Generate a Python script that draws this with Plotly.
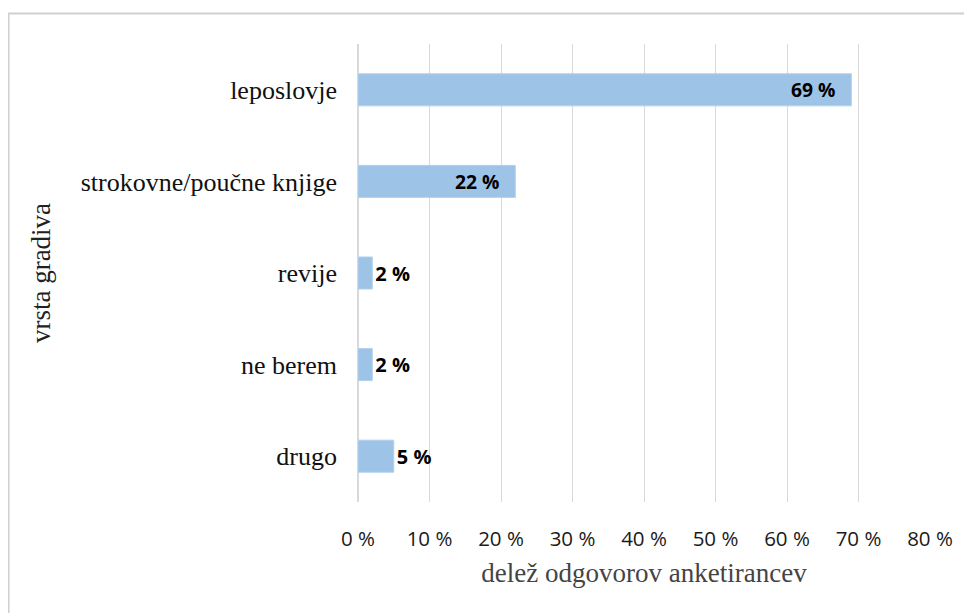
import plotly.graph_objects as go

categories = ["leposlovje", "strokovne/poučne knjige", "revije", "ne berem", "drugo"]
values = [69, 22, 2, 2, 5]
label_text = ["69 %", "22 %", "2 %", "2 %", "5 %"]
label_pos = ["inside", "inside", "outside", "outside", "outside"]
tick_vals = [0, 10, 20, 30, 40, 50, 60, 70, 80]
tick_text = ["0 %", "10 %", "20 %", "30 %", "40 %", "50 %", "60 %", "70 %", "80 %"]

# page body has an 8px margin, so the figure is offset by 8px
W, H = 964, 605
ml, mr, mt, mb = 350, 42, 36, 111
PW, PH = W - ml - mr, H - mt - mb

templates = ["%{text}\u2002\u2009" if p == "inside" else "%{text}" for p in label_pos]

fig = go.Figure(go.Bar(
    y=categories, x=values, orientation="h",
    text=label_text, textposition=label_pos, texttemplate=templates,
    insidetextanchor="end",
    textfont=dict(family="Open Sans", size=20, color="#000000", weight="bold"),
    marker=dict(color="#9DC3E6", line=dict(color="#B4D1EC", width=1)),
    width=0.35, cliponaxis=False,
))

fig.update_layout(
    width=W, height=H,
    margin=dict(l=ml, r=mr, t=mt, b=mb),
    paper_bgcolor="white", plot_bgcolor="white",
    showlegend=False,
    xaxis=dict(
        range=[0, 80], tickvals=tick_vals, ticktext=tick_text,
        showgrid=True, gridcolor="#D9D9D9", gridwidth=1,
        zeroline=True, zerolinecolor="#D9D9D9",
        tickfont=dict(family="Open Sans", size=20.5, color="#1a1a1a"),
        ticks="", ticklen=0, ticklabelstandoff=22,
        title=dict(text="delež odgovorov anketirancev",
                   font=dict(family="Liberation Serif", size=27, color="#444444"),
                   standoff=12),
    ),
    yaxis=dict(
        categoryorder="array", categoryarray=categories[::-1],
        range=[-0.5, 4.5],
        showgrid=False, ticks="", ticklen=0, ticklabelstandoff=20,
        tickfont=dict(family="Liberation Serif", size=26, color="#111111"),
        title=dict(text="vrsta gradiva",
                   font=dict(family="Liberation Serif", size=27, color="#222222"),
                   standoff=22),
        showline=False,
    ),
    shapes=[
        dict(type="line", xref="paper", yref="paper",
             x0=(0 - ml) / PW, x1=(W + 5 - ml) / PW,
             y0=1 + (mt - 5.5) / PH, y1=1 + (mt - 5.5) / PH,
             line=dict(color="#D0D0D0", width=2)),
        dict(type="line", xref="paper", yref="paper",
             x0=(0 - ml) / PW, x1=(0 - ml) / PW,
             y0=1 + (mt - 5) / PH, y1=-(mb + 10) / PH,
             line=dict(color="#D0D0D0", width=3)),
    ],
)

fig.write_html("out.html")
